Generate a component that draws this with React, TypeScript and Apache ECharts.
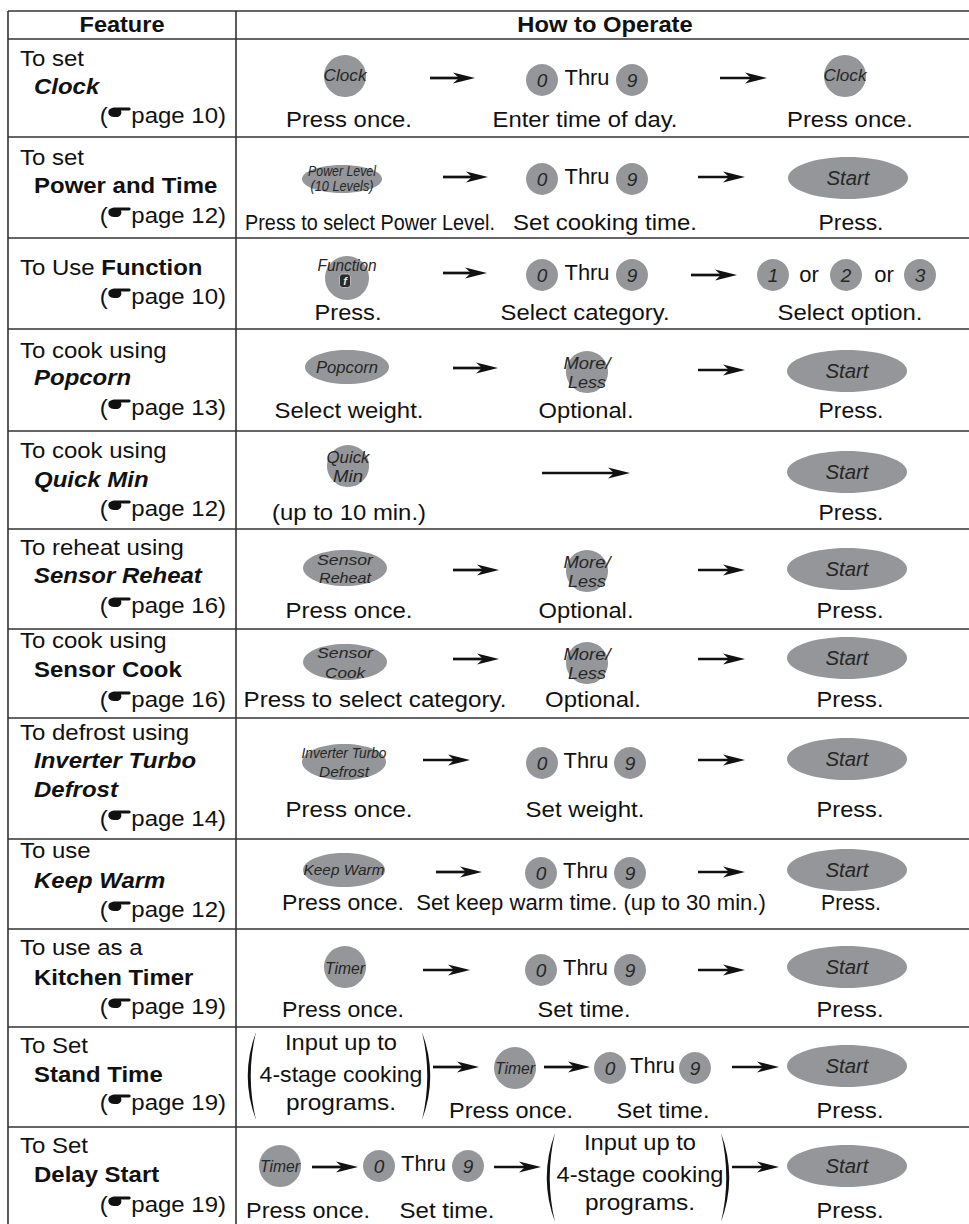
import React, { useEffect, useRef } from "react";
import * as echarts from "echarts";

const W = 969;
const H = 1224;

// ---------- content ----------
const headers = ["Feature", "How to Operate"];
const featureIntro = [
  "To set", "To set", "To Use ", "To cook using", "To cook using", "To reheat using",
  "To cook using", "To defrost using", "To use", "To use as a", "To Set", "To Set",
];
const featureName = [
  ["Clock"], ["Power and Time"], ["Function"], ["Popcorn"], ["Quick Min"], ["Sensor Reheat"],
  ["Sensor Cook"], ["Inverter Turbo", "Defrost"], ["Keep Warm"], ["Kitchen Timer"], ["Stand Time"], ["Delay Start"],
];
const featureItalic = [true, false, false, true, true, true, false, true, true, false, false, false];
const featurePage = ["10", "12", "10", "13", "12", "16", "16", "14", "12", "19", "19", "19"];

const stepLabels = [
  ["Press once.", "Enter time of day.", "Press once."],
  ["Press to select Power Level.", "Set cooking time.", "Press."],
  ["Press.", "Select category.", "Select option."],
  ["Select weight.", "Optional.", "Press."],
  ["(up to 10 min.)", "Press."],
  ["Press once.", "Optional.", "Press."],
  ["Press to select category.", "Optional.", "Press."],
  ["Press once.", "Set weight.", "Press."],
  ["Press once.", "Set keep warm time. (up to 30 min.)", "Press."],
  ["Press once.", "Set time.", "Press."],
  ["Press once.", "Set time.", "Press."],
  ["Press once.", "Set time.", "Press."],
];

const keyClock = ["Clock"];
const keyPower = ["Power Level", "(10 Levels)"];
const keyFunction = ["Function"];
const keyPopcorn = ["Popcorn"];
const keyQuick = ["Quick", "Min"];
const keyReheat = ["Sensor", "Reheat"];
const keyCook = ["Sensor", "Cook"];
const keyDefrost = ["Inverter Turbo", "Defrost"];
const keyWarm = ["Keep Warm"];
const keyTimer = ["Timer"];
const keyMore = ["More/", "Less"];
const keyStart = ["Start"];
const digitRange = ["0", "9"];
const optionDigits = ["1", "2", "3"];
const wordThru = "Thru";
const wordOr = "or";
const programNote = ["Input up to", "4-stage cooking", "programs."];

// ---------- layout ----------
const TABLE_LEFT = 8;
const TABLE_TOP = 11;
const COL_DIV = 236;
const rowLines = [39, 137, 238, 329, 431, 529, 629, 718, 839, 929, 1027, 1127];
const featureBaselines = [
  [66, 94, 123], [165, 193, 223], [275, 304], [358, 385, 415], [458, 487, 516],
  [555, 583, 613], [648, 677, 707], [740, 768, 797, 826], [858, 888, 917],
  [955, 985, 1014], [1053, 1082, 1110], [1153, 1182, 1212],
];
const FEAT_SX = 1.09;

const GRAY = "#949699";
const INK = "#111111";
const KEY_INK = "#262626";
const LINE = "#333333";
const FONT = '"Liberation Sans", Arial, Helvetica, sans-serif';

const HAND_D = "M0,4.8 C0,1.5 3,0 7.5,0 L21,0 C22.8,0 22.8,3 21,3 L12.5,3 C14,5.5 12.5,9.6 7.5,9.6 C2.5,9.6 0,8 0,4.8 Z";
const LPAREN_D = "M13,0 Q-3.5,50 13,100 Q2.5,50 13,0 Z";
const RPAREN_D = "M1,0 Q17.5,50 1,100 Q11.5,50 1,0 Z";

echarts.graphic.registerShape("hand", echarts.graphic.extendPath(HAND_D, {}));
echarts.graphic.registerShape("lparen", echarts.graphic.extendPath(LPAREN_D, {}));
echarts.graphic.registerShape("rparen", echarts.graphic.extendPath(RPAREN_D, {}));

let measureCtx: CanvasRenderingContext2D | null = null;
function measure(s: string, font: string) {
  if (!measureCtx) measureCtx = document.createElement("canvas").getContext("2d");
  measureCtx!.font = font;
  return measureCtx!.measureText(s).width;
}
function fontStr(size: number, bold = false, italic = false) {
  return `${italic ? "italic " : ""}${bold ? "bold " : ""}${size}px ${FONT}`;
}

type TOpt = { size?: number; bold?: boolean; italic?: boolean; align?: string; width?: number; sx?: number; color?: string };

// text by baseline
function T(s: string, x: number, base: number, o: TOpt = {}) {
  const size = o.size ?? 22;
  const font = fontStr(size, o.bold, o.italic);
  const sx = o.width ? o.width / measure(s, font) : o.sx ?? 1;
  return {
    type: "text", x, y: base - 0.35 * size, scaleX: sx, silent: true, z: 10,
    style: {
      text: s, x: 0, y: 0, font, fill: o.color ?? INK,
      textAlign: o.align ?? "left", textVerticalAlign: "middle",
      align: o.align ?? "left", verticalAlign: "middle",
    },
  };
}
// text centred (cap centre) at cy
function Tc(s: string, x: number, cy: number, o: TOpt = {}) {
  const size = o.size ?? 22;
  return T(s, x, cy + 0.35 * size, { align: "center", ...o });
}

function hline(y: number, x1 = TABLE_LEFT, x2 = W + 2) {
  return { type: "line", silent: true, shape: { x1, y1: y, x2, y2: y }, style: { stroke: LINE, lineWidth: 1.6 } };
}
function vline(x: number, y1 = TABLE_TOP, y2 = H + 2) {
  return { type: "line", silent: true, shape: { x1: x, y1, x2: x, y2 }, style: { stroke: LINE, lineWidth: 1.6 } };
}

function arrow(x0: number, x1: number, y: number) {
  return [
    { type: "rect", silent: true, shape: { x: x0, y: y - 1.35, width: x1 - x0 - 14, height: 2.7 }, style: { fill: INK } },
    {
      type: "polygon", silent: true,
      shape: { points: [[x1 - 22, y - 5.6], [x1, y], [x1 - 22, y + 5.6], [x1 - 16, y]] },
      style: { fill: INK },
    },
  ];
}

function keyLines(lines: string[], cx: number, ys: number[], size: number, widths: (number | undefined)[]) {
  return lines.map((s, i) => Tc(s, cx, ys[i], { size, italic: true, color: KEY_INK, width: widths[i] }));
}

function circleKey(cx: number, cy: number, r: number, lines: string[], ys: number[], size: number, widths: (number | undefined)[]) {
  return [
    { type: "circle", silent: true, shape: { cx, cy, r }, style: { fill: GRAY } },
    ...keyLines(lines, cx, ys, size, widths),
  ];
}
function ellipseKey(cx: number, cy: number, rx: number, ry: number, lines: string[], ys: number[], size: number, widths: (number | undefined)[]) {
  return [
    { type: "ellipse", silent: true, shape: { cx, cy, rx, ry }, style: { fill: GRAY } },
    ...keyLines(lines, cx, ys, size, widths),
  ];
}
function startKey(cx: number, cy: number) {
  return ellipseKey(cx, cy, 60, 21, keyStart, [cy], 20, [43]);
}
function moreKey(cx: number, cy: number) {
  return circleKey(cx, cy, 21, keyMore, [cy - 9, cy + 10], 17, [47, 38]);
}
function digit(cx: number, cy: number, d: string) {
  return [
    { type: "circle", silent: true, shape: { cx, cy, r: 16 }, style: { fill: GRAY } },
    Tc(d, cx, cy + 0.5, { size: 19, italic: true, color: KEY_INK }),
  ];
}
function thru(x0: number, x9: number, cy: number) {
  return [
    ...digit(x0, cy, digitRange[0]),
    T(wordThru, (x0 + x9) / 2, cy + 5, { align: "center", width: 45 }),
    ...digit(x9, cy, digitRange[1]),
  ];
}
function labels(row: number, base: number, centers: number[], widths: number[]) {
  return stepLabels[row].map((s, i) => T(s, centers[i], base, { align: "center", width: widths[i] }));
}
function parenBlock(xl: number, xr: number, top: number, h: number, cx: number, bases: number[], widths: number[]) {
  return [
    { type: "lparen", silent: true, x: xl, y: top, scaleX: 1, scaleY: h / 100, style: { fill: INK } },
    { type: "rparen", silent: true, x: xr, y: top, scaleX: 1, scaleY: h / 100, style: { fill: INK } },
    ...programNote.map((s, i) => T(s, cx, bases[i], { align: "center", width: widths[i] })),
  ];
}

function featureCell(row: number) {
  const bases = featureBaselines[row];
  const els: any[] = [];
  const intro = featureIntro[row];
  const names = featureName[row];
  const italic = featureItalic[row];
  let li = 0;
  if (row === 2) {
    els.push(T(intro, 20, bases[0], { sx: FEAT_SX }));
    const w = measure(intro, fontStr(22)) * FEAT_SX;
    els.push(T(names[0], 20 + w, bases[0], { bold: true, italic, sx: FEAT_SX }));
    li = 1;
  } else {
    els.push(T(intro, 20, bases[0], { sx: FEAT_SX }));
    names.forEach((n, i) => els.push(T(n, 34, bases[1 + i], { bold: true, italic, sx: FEAT_SX })));
    li = 1 + names.length;
  }
  // page reference
  const base = bases[li];
  const ps = `page ${featurePage[row]})`;
  const right = 226;
  const w = measure(ps, fontStr(22)) * FEAT_SX;
  const left = right - w;
  els.push(T(ps, right, base, { align: "right", sx: FEAT_SX }));
  els.push({ type: "hand", silent: true, x: left - 23, y: base - 15.5, style: { fill: INK } });
  els.push(T("(", left - 23.5, base, { align: "right", sx: FEAT_SX }));
  return els;
}

function buildElements() {
  const els: any[] = [];
  // table rules
  els.push(hline(TABLE_TOP));
  rowLines.forEach((y) => els.push(hline(y)));
  els.push(vline(TABLE_LEFT));
  els.push(vline(COL_DIV));
  // headers
  els.push(T(headers[0], (TABLE_LEFT + COL_DIV) / 2, 32, { bold: true, align: "center", sx: 1.07 }));
  els.push(T(headers[1], 605, 32, { bold: true, align: "center", sx: 1.08 }));
  // features
  for (let r = 0; r < 12; r++) els.push(...featureCell(r));

  // Row 0: Clock
  els.push(...circleKey(345, 76, 21, keyClock, [76], 17, [43]));
  els.push(...arrow(430, 475, 78));
  els.push(...thru(542, 632, 80));
  els.push(...arrow(720, 767, 78));
  els.push(...circleKey(845, 76, 21, keyClock, [76], 17, [43]));
  els.push(...labels(0, 127, [349, 585, 850], [126, 185, 126]));

  // Row 1: Power and Time
  els.push(...ellipseKey(342, 179, 40, 14, keyPower, [171.5, 186], 14, [68, 63]));
  els.push(...arrow(443, 488, 177));
  els.push(...thru(542, 632, 179));
  els.push(...arrow(698, 745, 177));
  els.push(...startKey(848, 178));
  els.push(...labels(1, 230, [370, 605, 851], [250, 184, 65]));

  // Row 2: Function
  els.push({ type: "circle", silent: true, shape: { cx: 347, cy: 278, r: 22 }, style: { fill: GRAY } });
  els.push(Tc(keyFunction[0], 347, 265, { size: 17, italic: true, color: KEY_INK, width: 59 }));
  els.push({ type: "rect", silent: true, shape: { x: 339.5, y: 274, width: 11, height: 13.5, r: 3 }, style: { fill: "#2a2a2a", stroke: "#cfcfcf", lineWidth: 0.8 } });
  els.push(Tc("f", 345, 281, { size: 11, italic: true, bold: true, color: "#e6e6e6" }));
  els.push(...arrow(443, 487, 273));
  els.push(...thru(542, 632, 275));
  els.push(...arrow(691, 737, 275));
  els.push(...digit(773, 275, optionDigits[0]));
  els.push(T(wordOr, 809, 282, { align: "center" }));
  els.push(...digit(846, 275, optionDigits[1]));
  els.push(T(wordOr, 884, 282, { align: "center" }));
  els.push(...digit(920, 275, optionDigits[2]));
  els.push(...labels(2, 320, [348, 585, 850], [67, 169, 145]));

  // Row 3: Popcorn
  els.push(...ellipseKey(347, 367, 42, 17, keyPopcorn, [367], 17, [62]));
  els.push(...arrow(453, 498, 368));
  els.push(...moreKey(587, 372));
  els.push(...arrow(698, 745, 370));
  els.push(...startKey(847, 371));
  els.push(...labels(3, 418, [349, 586, 851], [149, 95, 65]));

  // Row 4: Quick Min
  els.push(...circleKey(348, 466, 21, keyQuick, [457, 476], 17, [43, 30]));
  els.push(...arrow(542, 630, 473));
  els.push(...startKey(847, 472));
  els.push(...labels(4, 520, [349, 851], [154, 65]));

  // Row 5: Sensor Reheat
  els.push(...ellipseKey(345, 568, 42, 18, keyReheat, [560, 578], 15, [56, 52]));
  els.push(...arrow(453, 499, 570));
  els.push(...moreKey(587, 571));
  els.push(...arrow(698, 745, 570));
  els.push(...startKey(847, 569));
  els.push(...labels(5, 618, [349, 586, 850], [127, 95, 67]));

  // Row 6: Sensor Cook
  els.push(...ellipseKey(345, 662, 42, 18, keyCook, [653, 672], 15, [56, 40]));
  els.push(...arrow(453, 499, 659));
  els.push(...moreKey(587, 663));
  els.push(...arrow(698, 745, 659));
  els.push(...startKey(847, 658));
  els.push(...labels(6, 707, [375, 593, 850], [263, 96, 67]));

  // Row 7: Inverter Turbo Defrost
  els.push(...ellipseKey(344, 762, 42, 18, keyDefrost, [753, 772], 15, [85, 50]));
  els.push(...arrow(423, 470, 760));
  els.push(...thru(542, 630, 763));
  els.push(...arrow(698, 745, 760));
  els.push(...startKey(847, 759));
  els.push(...labels(7, 817, [349, 585, 850], [127, 119, 67]));

  // Row 8: Keep Warm
  els.push(...ellipseKey(344, 870, 41, 17, keyWarm, [870], 15, [81]));
  els.push(...arrow(436, 482, 872));
  els.push(...thru(541, 630, 873));
  els.push(...arrow(698, 745, 872));
  els.push(...startKey(847, 870));
  els.push(...labels(8, 910, [343, 591, 851], [122, 350, 60]));

  // Row 9: Kitchen Timer
  els.push(...circleKey(345, 967, 21, keyTimer, [968], 17, [40]));
  els.push(...arrow(423, 470, 970));
  els.push(...thru(541, 630, 970));
  els.push(...arrow(698, 745, 970));
  els.push(...startKey(847, 967));
  els.push(...labels(9, 1017, [343, 584, 850], [122, 93, 67]));

  // Row 10: Stand Time
  els.push(...parenBlock(243, 421, 1032, 88, 341, [1050, 1082, 1110], [112, 163, 110]));
  els.push(...arrow(433, 479, 1067));
  els.push(...circleKey(515, 1068, 21, keyTimer, [1068], 17, [40]));
  els.push(...arrow(544, 590, 1067));
  els.push(...thru(610, 695, 1068));
  els.push(...arrow(732, 779, 1067));
  els.push(...startKey(847, 1066));
  els.push(...labels(10, 1118, [511, 663, 850], [124, 93, 67]));

  // Row 11: Delay Start
  els.push(...circleKey(280, 1166, 21, keyTimer, [1166], 17, [40]));
  els.push(...arrow(312, 358, 1167));
  els.push(...thru(379, 468, 1166));
  els.push(...arrow(494, 541, 1167));
  els.push(...parenBlock(542, 720, 1133, 89, 640, [1150, 1182, 1210], [112, 167, 110]));
  els.push(...arrow(732, 779, 1167));
  els.push(...startKey(847, 1166));
  els.push(...labels(11, 1218, [308, 447, 850], [124, 95, 67]));

  return els;
}

export default function App() {
  const ref = useRef<HTMLDivElement>(null);
  useEffect(() => {
    if (!ref.current) return;
    const chart = echarts.init(ref.current, undefined, { renderer: "svg", width: W, height: H });
    chart.setOption({
      animation: false,
      backgroundColor: "#ffffff",
      graphic: { elements: buildElements() },
    });
    return () => chart.dispose();
  }, []);
  return (
    <div
      ref={ref}
      style={{ position: "absolute", left: 0, top: 0, width: W, height: H, background: "#fff" }}
    />
  );
}
